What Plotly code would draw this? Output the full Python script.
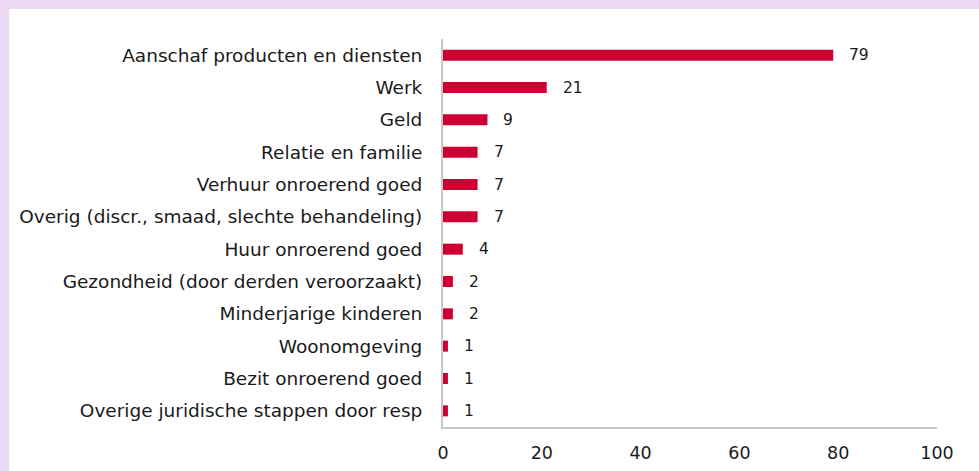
import plotly.graph_objects as go

categories = [
    "Aanschaf producten en diensten",
    "Werk",
    "Geld",
    "Relatie en familie",
    "Verhuur onroerend goed",
    "Overig (discr., smaad, slechte behandeling)",
    "Huur onroerend goed",
    "Gezondheid (door derden veroorzaakt)",
    "Minderjarige kinderen",
    "Woonomgeving",
    "Bezit onroerend goed",
    "Overige juridische stappen door resp",
]
values = [79, 21, 9, 7, 7, 7, 4, 2, 2, 1, 1, 1]
x_ticks = [0, 20, 40, 60, 80, 100]

FONT = "DejaVu Sans, Verdana, sans-serif"
W, H = 979, 471
L, R, T, B = 443, 42, 39, 44
pw, ph = W - L - R, H - T - B

fig = go.Figure()
fig.add_trace(go.Bar(
    y=categories, x=values, orientation="h",
    marker=dict(color="#CC0033", line=dict(width=0)),
    hoverinfo="x+y",
))

annotations = []
for c, v in zip(categories, values):
    annotations.append(dict(
        x=v, y=c, xref="x", yref="y", text=str(v), showarrow=False,
        xanchor="left", yanchor="middle", xshift=14,
        font=dict(family=FONT, size=15.5, color="#1a1a1a"),
    ))

# lavender frame (top and left bands) in paper coordinates
def px_x(p):
    return (p - L) / pw

def px_y(p):
    return 1 - (p - T) / ph

shapes = [
    dict(type="rect", xref="paper", yref="paper", x0=px_x(0), x1=px_x(W), y0=px_y(0), y1=px_y(9),
         fillcolor="#ECD9F4", line=dict(width=0), layer="below"),
    dict(type="rect", xref="paper", yref="paper", x0=px_x(0), x1=px_x(9), y0=px_y(0), y1=px_y(H),
         fillcolor="#ECD9F4", line=dict(width=0), layer="below"),
]

fig.update_layout(
    width=W, height=H,
    margin=dict(l=L, r=R, t=T, b=B, pad=0, autoexpand=False),
    paper_bgcolor="white", plot_bgcolor="white",
    showlegend=False,
    bargap=0.66,
    font=dict(family=FONT, size=18.5, color="#1a1a1a"),
    xaxis=dict(
        range=[0, 100], tickvals=x_ticks, ticktext=[str(t) for t in x_ticks],
        showgrid=False, zeroline=False, automargin=False,
        showline=True, linecolor="#C8C8C8", linewidth=2,
        ticks="", ticklabelstandoff=9,
        tickfont=dict(size=17.5),
        fixedrange=True,
    ),
    yaxis=dict(
        categoryorder="array", categoryarray=categories[::-1],
        showgrid=False, zeroline=False, automargin=False,
        showline=True, linecolor="#C8C8C8", linewidth=2,
        ticks="", ticklabelstandoff=15,
        tickfont=dict(size=18.5),
        fixedrange=True,
    ),
    annotations=annotations,
    shapes=shapes,
)

fig.write_html("out.html", config={"displayModeBar": False})
